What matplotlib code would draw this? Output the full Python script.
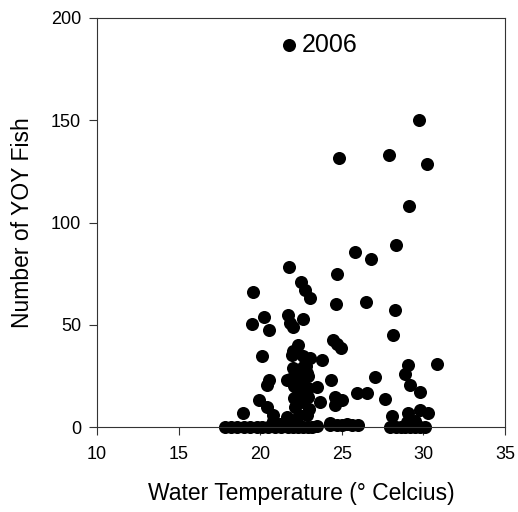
import matplotlib

matplotlib.use("Agg")
import matplotlib.pyplot as plt

plt.rcParams["font.family"] = ["Liberation Sans", "DejaVu Sans"]

# water temperature (deg C) and number of young-of-year fish
temp = [
    21.76, 29.75, 24.85, 27.89, 30.24, 29.12, 28.30, 25.81, 26.77, 21.75,
    24.68, 22.48, 22.75, 23.05, 19.58, 24.62, 26.48, 28.26, 28.16, 21.72,
    22.60, 20.25, 19.48, 20.54, 21.99, 21.80, 24.48, 24.70, 24.93, 22.34,
    21.93, 22.64, 23.05, 23.77, 20.09, 30.85, 29.08, 28.87, 21.83, 22.44,
    22.95, 24.31, 27.01, 29.18, 29.79, 23.50, 22.34, 22.95, 23.66, 24.58,
    24.99, 24.58, 25.91, 26.56, 27.67, 22.13, 21.62, 22.85, 28.05, 29.08,
    29.79, 30.30, 20.56, 20.40, 19.95, 20.40, 20.76, 18.97, 21.66, 22.10,
    22.85, 22.00, 22.60, 22.30, 22.90, 22.60, 22.20, 20.80, 21.20, 24.28,
    25.30, 29.00, 29.50, 22.20, 22.50, 22.80, 22.10, 22.40, 23.00, 22.00,
    17.85, 18.20, 18.60, 19.00, 19.40, 19.80, 20.10, 20.50, 20.90, 21.30,
    21.70, 22.00, 22.30, 22.60, 22.90, 23.20, 23.50, 24.30, 24.70, 25.00,
    25.60, 26.00, 27.95, 28.30, 28.60, 28.90, 29.20, 29.50, 29.80, 30.10,
]
fish = [
    187, 150, 131.5, 133, 128.5, 108, 89, 85.5, 82, 78,
    75, 71, 67, 63, 66, 60, 61, 57, 45, 55,
    53, 54, 50.5, 47.5, 49, 51, 42.5, 40.5, 38.5, 40,
    35, 34.5, 33.5, 33, 34.5, 31, 30.5, 26, 23.3, 24.6,
    25, 23, 24.3, 20.5, 17, 19.4, 15.2, 14.8, 12, 14.8,
    13.2, 11, 16.5, 16.5, 13.5, 10, 5, 6, 5.5, 6.7,
    8.3, 7, 23, 20.5, 13.2, 10, 6, 6.7, 23, 20,
    26.5, 29, 29.5, 18, 19, 12, 3, 3, 1.5, 2,
    1.5, 2.5, 3, 27, 21, 30, 14, 6, 9, 37,
    0, 0, 0, 0, 0, 0, 0, 0, 0, 0,
    0, 0, 0, 0, 0, 0, 0.5, 1, 1, 1,
    1, 1, 0, 0, 0, 0, 0, 0, 0, 0,
]

x_ticks = [10, 15, 20, 25, 30, 35]
y_ticks = [0, 50, 100, 150, 200]
label_year = "2006"


def main() -> None:
    fig = plt.figure(figsize=(5.18, 5.12), dpi=100)
    ax = fig.add_axes([97 / 518, 85 / 512, 408 / 518, 409 / 512])

    ax.plot(temp, fish, "o", color="black", markersize=9.4, markeredgewidth=0, clip_on=False)
    ax.text(22.55, 187, label_year, fontsize=18, va="center", ha="left")

    ax.set_xlim(10, 35)
    ax.set_ylim(0, 200)
    ax.set_xticks(x_ticks)
    ax.set_yticks(y_ticks)
    ax.tick_params(axis="both", labelsize=13, length=5.5, width=0.8, color="#333333", direction="out")
    ax.tick_params(axis="x", pad=8)
    ax.tick_params(axis="y", pad=6)
    for sp in ax.spines.values():
        sp.set_linewidth(0.8)
        sp.set_color("#333333")

    ax.set_xlabel("Water Temperature (° Celcius)", fontsize=16.5, labelpad=14)
    ax.set_ylabel("Number of YOY Fish", fontsize=16.5, labelpad=12)

    fig.savefig("out.png", dpi=100)
    plt.close(fig)


if __name__ == "__main__":
    main()
